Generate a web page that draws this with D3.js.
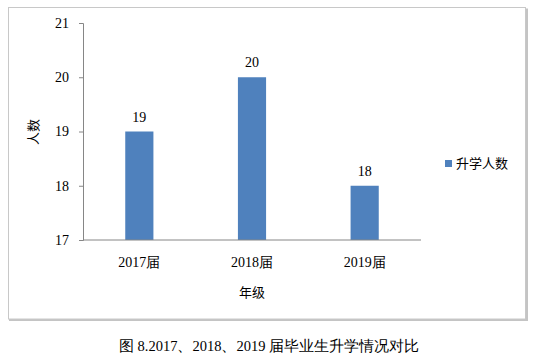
<!DOCTYPE html>
<html><head><meta charset="utf-8">
<script src="https://cdn.jsdelivr.net/npm/d3@7"></script>
<style>body{margin:0;background:#fff;}</style>
</head><body>
<svg id="c" width="535" height="355"></svg>
<script>
const categories = ["2017届", "2018届", "2019届"];
const values = [19, 20, 18];
const yTicks = [17, 18, 19, 20, 21];
const seriesName = "升学人数";
const yTitle = "人数";
const xTitle = "年级";
const caption = "图 8.2017、2018、2019 届毕业生升学情况对比";

const svg = d3.select("#c");
const serif = "'Liberation Serif','Times New Roman',serif";
const cjk = "'Noto Sans CJK SC','Noto Sans',sans-serif";

// outer frame with slight shadow on right/bottom
svg.append("path").attr("d", "M527,8.5V320H9").attr("fill", "none").attr("stroke", "#c4c4c4").attr("stroke-width", 2);
svg.append("rect").attr("x", 8.5).attr("y", 7.5).attr("width", 517).attr("height", 311.5)
  .attr("fill", "#fff").attr("stroke", "#c8c8c8").attr("stroke-width", 1);

const x = d3.scaleBand().domain(categories).range([83, 421]).paddingInner(0.75).paddingOuter(0.375);
const y = d3.scaleLinear().domain([17, 21]).range([240, 23]);

// bars
svg.selectAll("rect.bar").data(values).enter().append("rect").attr("class", "bar")
  .attr("x", (d, i) => x(categories[i])).attr("width", x.bandwidth())
  .attr("y", d => y(d)).attr("height", d => y(17) - y(d)).attr("fill", "#4F81BD");

// y axis
const ya = svg.append("g").attr("transform", "translate(83,0)")
  .call(d3.axisLeft(y).tickValues(yTicks).tickSize(4).tickPadding(10).tickFormat(d3.format("d")));
ya.select(".domain").attr("stroke", "#868686");
ya.selectAll(".tick line").attr("stroke", "#868686");
ya.selectAll(".tick text").attr("font-family", serif).attr("font-size", 14).attr("fill", "#000");

// x axis
const xa = svg.append("g").attr("transform", "translate(0,240)")
  .call(d3.axisBottom(x).tickSize(0).tickPadding(17).tickSizeOuter(0));
xa.select(".domain").attr("stroke", "#868686").attr("d", "M83,0H421");
xa.selectAll(".tick text").attr("font-family", serif).attr("font-size", 14).attr("fill", "#000");

// data labels
svg.selectAll("text.lbl").data(values).enter().append("text").attr("class", "lbl")
  .attr("x", (d, i) => x(categories[i]) + x.bandwidth() / 2).attr("y", d => y(d) - 10)
  .attr("text-anchor", "middle").attr("font-family", serif).attr("font-size", 14).text(d => d);

// axis titles
svg.append("text").attr("transform", "translate(38,132) rotate(-90)").attr("text-anchor", "middle")
  .attr("font-family", cjk).attr("font-size", 13).text(yTitle);
svg.append("text").attr("x", 252).attr("y", 297).attr("text-anchor", "middle")
  .attr("font-family", cjk).attr("font-size", 13).text(xTitle);

// legend
svg.append("rect").attr("x", 445).attr("y", 160).attr("width", 7).attr("height", 7).attr("fill", "#4F81BD");
svg.append("text").attr("x", 456).attr("y", 168).attr("font-family", cjk).attr("font-size", 13).text(seriesName);

// caption
svg.append("text").attr("x", 269).attr("y", 351).attr("text-anchor", "middle")
  .attr("font-family", serif).attr("font-size", 14.5).text(caption);
</script>
</body></html>
